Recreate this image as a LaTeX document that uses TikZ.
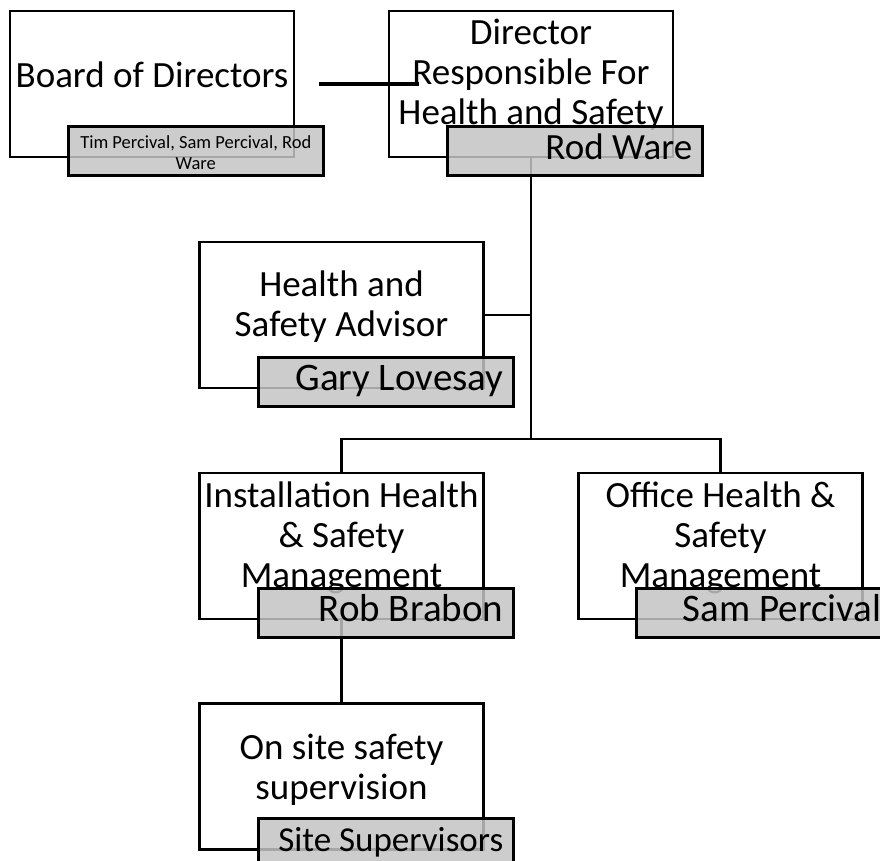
\documentclass[tikz,border=0pt]{standalone}
\usepackage{fontspec}
\setmainfont{Carlito}
\usepackage{tikz}
\definecolor{labelgray}{RGB}{196,196,196}

\begin{document}
\begin{tikzpicture}[x=1pt, y=-1pt, line width=2.5pt,
  rolebox/.style={draw, fill=white, rectangle, inner sep=0pt,
    minimum width=284pt, minimum height=146pt},
  roletext/.style={align=center, anchor=base, inner sep=0pt,
    font=\fontsize{37}{40}\selectfont},
  namebox/.style={draw, rectangle, anchor=north west, fill=labelgray,
    fill opacity=0.85, text opacity=1, minimum width=255pt,
    minimum height=49pt, text width=235pt, inner xsep=10pt,
    inner ysep=0pt, align=flush right, text height=27pt, text depth=9pt,
    font=\fontsize{#1}{40}\selectfont},
  namebox/.default=37,
  link/.style={line width=2.5pt}]

\useasboundingbox (0,0) rectangle (880,860);
\clip (0,0) rectangle (880,860);

% role boxes
\node[rolebox] (bod) at (152, 84) {};
\node[rolebox] (hsdir) at (531, 84) {};
\node[rolebox] (advisor) at (341.5, 315) {};
\node[rolebox] (install) at (341.5, 546) {};
\node[rolebox] (office) at (720.5, 546) {};
\node[rolebox] (site) at (341.5, 776.5) {};

% titles, placed at the baseline of their last line
\node[roletext] (bodtitle) at (152, 87) {Board of Directors};
\node[roletext] (hsdirtitle) at (531, 124) {Director\\Responsible For\\Health and Safety};
\node[roletext] (advisortitle) at (341.5, 336) {Health and\\Safety Advisor};
\node[roletext] (installtitle) at (341.5, 587) {Installation Health\\\& Safety\\Management};
\node[roletext] (officetitle) at (720.5, 587) {Office Health \&\\Safety\\Management};
\node[roletext] (sitetitle) at (341.5, 799) {On site safety\\supervision};

% connectors
\coordinate (hub) at (531, 439);
\draw[line width=4pt] ([xshift=24pt]bod.east) -- ([xshift=31pt]hsdir.west);
\draw[link] (hsdir.south) -- (hub);
\draw[link] (advisor.east) -- (advisor.east -| hub);
\draw[link] (install.north) |- (hub) -| (office.north);
\draw[link] (install.south) -- (site.north);

% name labels
\node[namebox, align=flush center, text width=251pt, inner xsep=2pt,
  text height=16pt, text depth=21pt,
  font=\fontsize{18.5}{21}\selectfont] (bodnames) at (67, 125)
  {Tim Percival, Sam Percival, Rod\\Ware};
\node[namebox] (hsdirname) at (446, 125) {Rod Ware};
\node[namebox=39] (advisorname) at (257, 356) {Gary Lovesay};
\node[namebox=39] (installname) at (257, 587) {Rob Brabon};
\node[namebox=39] (officename) at (635, 587) {Sam Percival};
\node[namebox=35] (sitename) at (257, 817) {Site Supervisors};

\end{tikzpicture}
\end{document}
